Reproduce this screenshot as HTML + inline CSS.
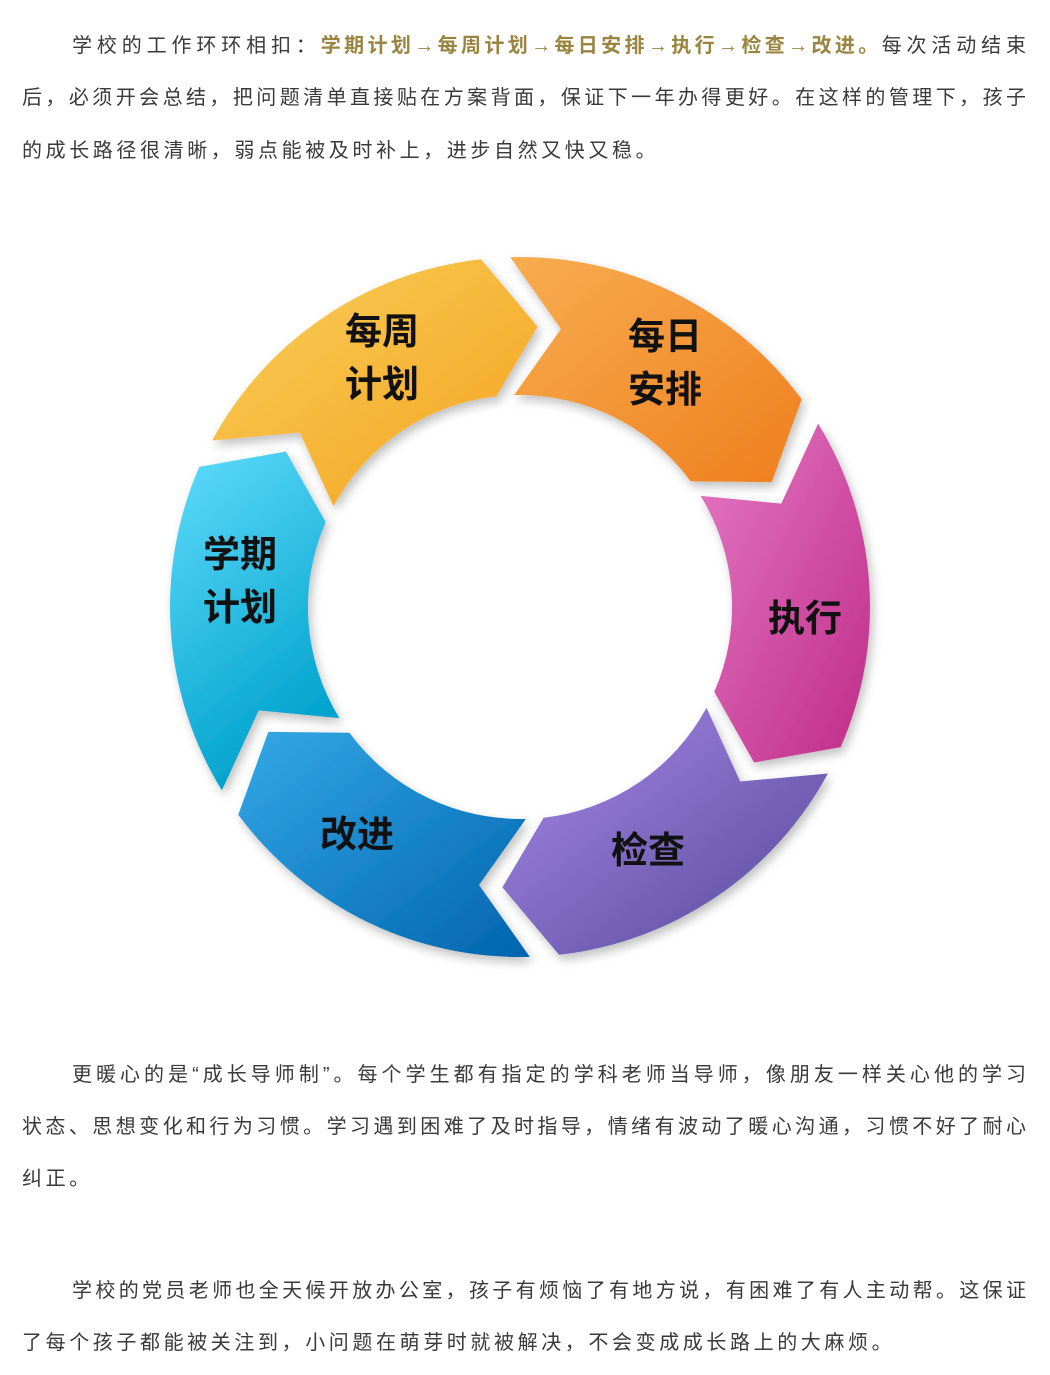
<!DOCTYPE html>
<html><head><meta charset="utf-8">
<style>
body{margin:0;background:#fff;width:1050px;height:1375px;position:relative;overflow:hidden;font-family:"Liberation Sans","Noto Sans CJK SC",sans-serif;}
.l{position:absolute;left:22px;width:1006px;font-size:20px;line-height:30px;color:#3a3a3a;text-align:justify;text-align-last:justify;white-space:nowrap;letter-spacing:2px;}
.l.n{text-align-last:left;letter-spacing:3.6px;}
.h{color:#9a8540;font-weight:bold;letter-spacing:0.5px;}
svg{position:absolute;left:0;top:0;}
</style></head><body>
<div class="l" style="top:31px;padding-left:50px;width:956px;">学校的工作环环相扣：<span class="h">学期计划→每周计划→每日安排→执行→检查→改进。</span>每次活动结束</div>
<div class="l" style="top:83px;">后，必须开会总结，把问题清单直接贴在方案背面，保证下一年办得更好。在这样的管理下，孩子</div>
<div class="l n" style="top:136px;">的成长路径很清晰，弱点能被及时补上，进步自然又快又稳。</div>
<div class="l" style="top:1060px;padding-left:50px;width:956px;">更暖心的是“成长导师制”。每个学生都有指定的学科老师当导师，像朋友一样关心他的学习</div>
<div class="l" style="top:1112px;">状态、思想变化和行为习惯。学习遇到困难了及时指导，情绪有波动了暖心沟通，习惯不好了耐心</div>
<div class="l n" style="top:1164px;">纠正。</div>
<div class="l" style="top:1276px;padding-left:50px;width:956px;">学校的党员老师也全天候开放办公室，孩子有烦恼了有地方说，有困难了有人主动帮。这保证</div>
<div class="l n" style="top:1328px;">了每个孩子都能被关注到，小问题在萌芽时就被解决，不会变成成长路上的大麻烦。</div>
<svg id="s" width="1050" height="1375" xmlns="http://www.w3.org/2000/svg">
<defs>
<filter id="sh" x="-20%" y="-20%" width="140%" height="140%"><feDropShadow dx="3" dy="5" stdDeviation="5" flood-color="#000" flood-opacity="0.25"/></filter>
<linearGradient id="g0" x1="0" y1="0" x2="1" y2="1"><stop offset="0" stop-color="#f8cf5a"/><stop offset="1" stop-color="#f5a21e"/></linearGradient>
<linearGradient id="g1" x1="0" y1="0" x2="1" y2="1"><stop offset="0" stop-color="#f7ad50"/><stop offset="1" stop-color="#ef7f1e"/></linearGradient>
<linearGradient id="g2" x1="0" y1="0" x2="1" y2="1"><stop offset="0" stop-color="#e478c4"/><stop offset="1" stop-color="#bf2c88"/></linearGradient>
<linearGradient id="g3" x1="0" y1="0" x2="1" y2="1"><stop offset="0" stop-color="#a88ae8"/><stop offset="1" stop-color="#55479a"/></linearGradient>
<linearGradient id="g4" x1="0" y1="0" x2="1" y2="1"><stop offset="0" stop-color="#34a8e6"/><stop offset="1" stop-color="#0064ae"/></linearGradient>
<linearGradient id="g5" x1="0" y1="0" x2="0.4" y2="1"><stop offset="0" stop-color="#60dcfc"/><stop offset="1" stop-color="#00a2cc"/></linearGradient>
</defs>
<g id="ring" filter="url(#sh)"></g>
<g font-family="'Liberation Sans','Noto Sans CJK SC',sans-serif" font-weight="bold" font-size="37" fill="#111" text-anchor="middle">
<text x="382" y="344">每周</text><text x="382" y="397">计划</text>
<text x="665" y="349">每日</text><text x="665" y="402">安排</text>
<text x="240" y="567">学期</text><text x="240" y="620">计划</text>
<text x="805" y="631">执行</text>
<text x="648" y="863">检查</text>
<text x="357" y="847">改进</text>
</g>
</svg>
<script>
var cx=520,cy=607,R=350,r=212,rm=(R+r)/2,d=10,g=2.4;
var order=[["g0",-4],["g1",56],["g2",116],["g3",176],["g4",236],["g5",296]];
function P(rad,a){var t=(a-90)*Math.PI/180;return (cx+rad*Math.cos(t)).toFixed(1)+","+(cy+rad*Math.sin(t)).toFixed(1);}
var h="";
order.forEach(function(o){
 var a0=o[1]-60+g,a1=o[1]-g;
 var s="M"+P(R,a0)+" A"+R+","+R+" 0 0 1 "+P(R,a1)+" L"+P(rm,a1+d)+" L"+P(r,a1)+" A"+r+","+r+" 0 0 0 "+P(r,a0)+" L"+P(rm,a0+d)+" Z";
 h+='<path d="'+s+'" fill="url(#'+o[0]+')"/>';
});
document.getElementById("ring").innerHTML=h;
</script>
</body></html>
